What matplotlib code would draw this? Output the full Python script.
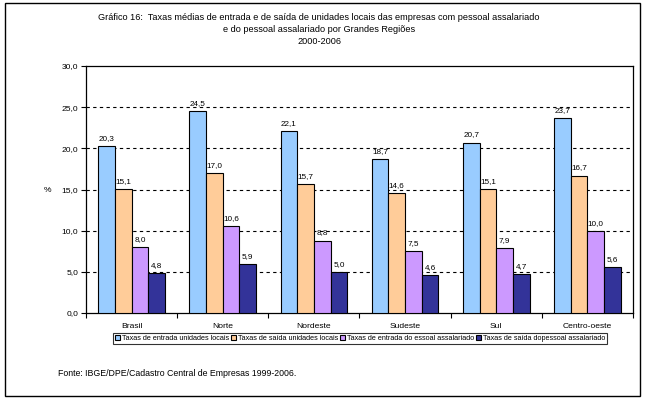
import matplotlib
matplotlib.use("Agg")
import matplotlib.pyplot as plt
import numpy as np
from matplotlib.patches import Rectangle

plt.rcParams['font.family'] = ['Liberation Sans', 'DejaVu Sans']

categories = ["Brasil", "Norte", "Nordeste", "Sudeste", "Sul", "Centro-oeste"]
series_names = [
    "Taxas de entrada unidades locais",
    "Taxas de saída unidades locais",
    "Taxas de entrada do essoal assalariado",
    "Taxas de saída dopessoal assalariado",
]
entrada_unid = [20.3, 24.5, 22.1, 18.7, 20.7, 23.7]
saida_unid = [15.1, 17.0, 15.7, 14.6, 15.1, 16.7]
entrada_pess = [8.0, 10.6, 8.8, 7.5, 7.9, 10.0]
saida_pess = [4.8, 5.9, 5.0, 4.6, 4.7, 5.6]
series = [entrada_unid, saida_unid, entrada_pess, saida_pess]
colors = ["#99CCFF", "#FFCC99", "#CC99FF", "#333399"]
yticks = [0, 5, 10, 15, 20, 25, 30]

W, H = 645, 399
fig = plt.figure(figsize=(W / 100, H / 100), dpi=100)

# outer frame
fig.patches.append(Rectangle((5 / W, 3 / H), 635 / W, 393 / H, transform=fig.transFigure,
                             fill=False, edgecolor="black", linewidth=1.0))

ax = fig.add_axes([86 / W, (H - 313) / H, (633 - 86) / W, (313 - 66) / H])
x = np.arange(len(categories))
bw = 0.183
for i, (vals, col) in enumerate(zip(series, colors)):
    pos = x + (i - 1.5) * bw
    ax.bar(pos, vals, bw, color=col, edgecolor="black", linewidth=0.8,
           label=series_names[i], zorder=3)
    for p, v in zip(pos, vals):
        ax.text(p, v + 0.5, f"{v:.1f}".replace(".", ","), ha="center", va="bottom",
                fontsize=5.9, zorder=4)

ax.set_xlim(-0.5, len(categories) - 0.5)
ax.set_ylim(0, 30)
ax.set_yticks(yticks)
ax.set_yticklabels([f"{t:.1f}".replace(".", ",") for t in yticks], fontsize=6.1)
for t in yticks[1:-1]:
    ax.axhline(t, color="black", linestyle=(0, (3, 3)), linewidth=0.8, zorder=1)

ax.set_xticks(x)
ax.set_xticklabels(categories, fontsize=6.1)
ax.set_xticks(np.arange(-0.5, len(categories), 1.0), minor=True)
ax.tick_params(axis="x", which="major", length=0, pad=7)
ax.tick_params(axis="x", which="minor", length=3.5, width=0.8, direction="out")
ax.tick_params(axis="y", length=3.5, width=0.8, direction="out", pad=2)
for s in ax.spines.values():
    s.set_linewidth(0.9)
    s.set_color("black")

fig.text(48 / W, 1 - 190 / H, "%", fontsize=6.1, ha="center", va="center")

# title
tfs = 6.6
fig.text(319 / W, 1 - 18 / H,
         "Gráfico 16:  Taxas médias de entrada e de saída de unidades locais das empresas com pessoal assalariado",
         fontsize=tfs, ha="center", va="center")
fig.text(319 / W, 1 - 29 / H, "e do pessoal assalariado por Grandes Regiões",
         fontsize=tfs, ha="center", va="center")
fig.text(319 / W, 1 - 41 / H, "2000-2006", fontsize=tfs, ha="center", va="center")

leg = fig.legend(loc="center", bbox_to_anchor=(360 / W, 1 - 338.5 / H), ncol=4,
                 fontsize=5.25, frameon=True, fancybox=False, edgecolor="black",
                 handlelength=0.7, handleheight=0.7, handletextpad=0.25,
                 columnspacing=0.25, borderpad=0.25, borderaxespad=0)
leg.get_frame().set_linewidth(0.8)

fig.text(58 / W, 1 - 374 / H, "Fonte: IBGE/DPE/Cadastro Central de Empresas 1999-2006.",
         fontsize=6.3, ha="left", va="center")

fig.savefig("out.png", dpi=100)
